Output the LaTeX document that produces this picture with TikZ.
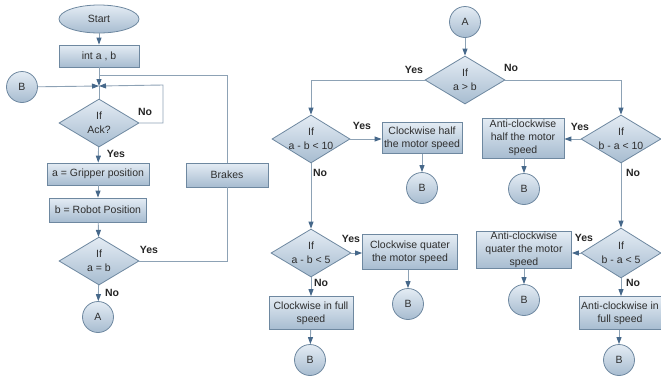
\documentclass[tikz,border=0pt]{standalone}
\usepackage{fontspec}
\setmainfont{Liberation Sans}
\usetikzlibrary{shapes.geometric,arrows.meta}
\definecolor{edgeblue}{HTML}{6E88A0}
\definecolor{lineblue}{HTML}{8DA2B5}
\definecolor{tipblue}{HTML}{46688A}
\definecolor{filltop}{HTML}{E4ECF4}
\definecolor{fillbot}{HTML}{A7BCD0}
\definecolor{txt}{HTML}{2E2E2E}
\begin{document}
\begin{tikzpicture}[x=1pt,y=-1pt,
  every node/.style={font=\fontsize{10.5}{12.8}\selectfont, text=txt},
  shaded/.style={draw=edgeblue, line width=0.8pt, top color=filltop, bottom color=fillbot},
  box/.style={shaded, rectangle, align=center, inner sep=1pt},
  term/.style={shaded, ellipse, inner sep=0pt, minimum width=80pt, minimum height=28pt},
  conn/.style={shaded, circle, inner sep=0pt, minimum size=31pt},
  dec/.style={shaded, diamond, inner sep=0pt, minimum width=80pt, minimum height=48pt},
  dtext/.style={align=center, inner sep=0pt, font=\fontsize{10.5}{14}\selectfont},
  lbl/.style={inner sep=0pt, text=black!85, font=\bfseries\fontsize{10.5}{12}\selectfont},
  link/.style={draw=lineblue, line width=0.9pt},
  flow/.style={link, -{Triangle[length=7pt,width=5pt,color=tipblue]}}
]
\useasboundingbox (0,0) rectangle (661,376);

% ---------- left flow: reading positions ----------
\node[term] (start) at (99,19) {Start};
\node[box, minimum width=80pt, minimum height=22pt] (init) at (99,56) {int a , b};
\node[conn] (bl) at (22,87) {B};
\coordinate (join) at (99,86);
\node[dec] (ack) at (99,123) {};
\node[dtext] (ackt) at (ack) {If\\Ack?};
\node[box, minimum width=102pt, minimum height=22pt] (grip) at (98,174) {a = Gripper position};
\node[box, minimum width=97pt, minimum height=24pt] (robot) at (98,210) {b = Robot Position};
\node[dec] (eq) at (99,261) {};
\node[dtext] (eqt) at (eq) {If\\a = b};
\node[conn] (al) at (98,317) {A};
\node[box, minimum width=82pt, minimum height=24pt] (brake) at (227,175) {Brakes};

\draw[flow] (start) -- (init);
\draw[flow] (init) -- (join);
\draw[link] (join) -- (ack.north);
\draw[flow] (bl) -- (join);
\draw[flow] (ack.east) -- (163,123) -- (163,85) -- (join);
\draw[link] (brake.north) -- (brake.north |- 0,75) -- (99,75);
\draw[flow] (ack) -- (grip);
\draw[flow] (grip) -- (robot);
\draw[flow] (robot) -- (eq);
\draw[link] (eq.east) -- (eq.east -| brake.south) -- (brake.south);
\draw[flow] (eq) -- (al);

\node[lbl] (l1) at (145,112) {No};
\node[lbl] (l2) at (116,154) {Yes};
\node[lbl] (l3) at (149,250) {Yes};
\node[lbl] (l4) at (112,293) {No};

% ---------- right flow: direction decision ----------
\node[conn] (at) at (465,22) {A};
\node[dec] (gt) at (465,80) {};
\node[dtext] (gtt) at (gt) {If\\a > b};

\node[dec, minimum width=78pt] (cw10) at (311,139) {};
\node[dtext] (cw10t) at (cw10) {If\\a - b < 10};
\node[box, minimum width=80pt, minimum height=31pt] (cwh) at (422,138) {Clockwise half\\the motor speed};
\node[conn] (b1) at (422,188) {B};
\node[dec] (cw5) at (311,253) {};
\node[dtext] (cw5t) at (cw5) {If\\a - b < 5};
\node[box, minimum width=95pt, minimum height=35pt] (cwq) at (410,252) {Clockwise quater\\the motor speed};
\node[conn] (b3) at (408,304) {B};
\node[box, minimum width=84pt, minimum height=33pt] (cwf) at (311,313) {Clockwise in full\\speed};
\node[conn] (b5) at (310,360) {B};

\node[dec] (ac10) at (621,139) {};
\node[dtext] (ac10t) at (ac10) {If\\b - a < 10};
\node[box, minimum width=82pt, minimum height=40pt] (ach) at (523,138) {Anti-clockwise\\half the motor\\speed};
\node[conn] (b2) at (524,189) {B};
\node[dec, minimum height=50pt] (ac5) at (621,253) {};
\node[dtext] (ac5t) at (ac5) {If\\b - a < 5};
\node[box, minimum width=95pt, minimum height=36pt] (acq) at (524,250) {Anti-clockwise\\quater the motor\\speed};
\node[conn] (b4) at (524,300) {B};
\node[box, minimum width=82pt, minimum height=33pt] (acf) at (620,313) {Anti-clockwise in\\full speed};
\node[conn] (b6) at (619,360) {B};

\draw[flow] (at) -- (gt);
\draw[flow] (gt.west) -- (gt.west -| cw10.north) -- (cw10.north);
\draw[flow] (gt.east) -- (gt.east -| ac10.north) -- (ac10.north);
\draw[flow] (cw10.east) -- (cw10.east -| cwh.west);
\draw[flow] (cwh) -- (b1);
\draw[flow] (cw10) -- (cw5);
\draw[flow] (cw5.east) -- (cw5.east -| cwq.west);
\draw[flow] (cwq.south -| b3) -- (b3);
\draw[flow] (cw5) -- (cwf);
\draw[flow] (cwf) -- (b5);
\draw[flow] (ac10.west) -- (ac10.west -| ach.east);
\draw[flow] (ach.south -| b2) -- (b2);
\draw[flow] (ac10) -- (ac5);
\draw[flow] (ac5.west) -- (ac5.west -| acq.east);
\draw[flow] (acq) -- (b4);
\draw[flow] (ac5.south) -- (ac5.south |- acf.north);
\draw[flow] (acf.south -| b6) -- (b6);

\node[lbl] (y1) at (414,70) {Yes};
\node[lbl] (n1) at (511,68) {No};
\node[lbl] (y2) at (362,126) {Yes};
\node[lbl] (n2) at (320,173) {No};
\node[lbl] (y3) at (351,239) {Yes};
\node[lbl] (n3) at (321,283) {No};
\node[lbl] (y4) at (580,127) {Yes};
\node[lbl] (n4) at (633,173) {No};
\node[lbl] (y5) at (584,238) {Yes};
\node[lbl] (n5) at (633,283) {No};
\end{tikzpicture}
\end{document}
